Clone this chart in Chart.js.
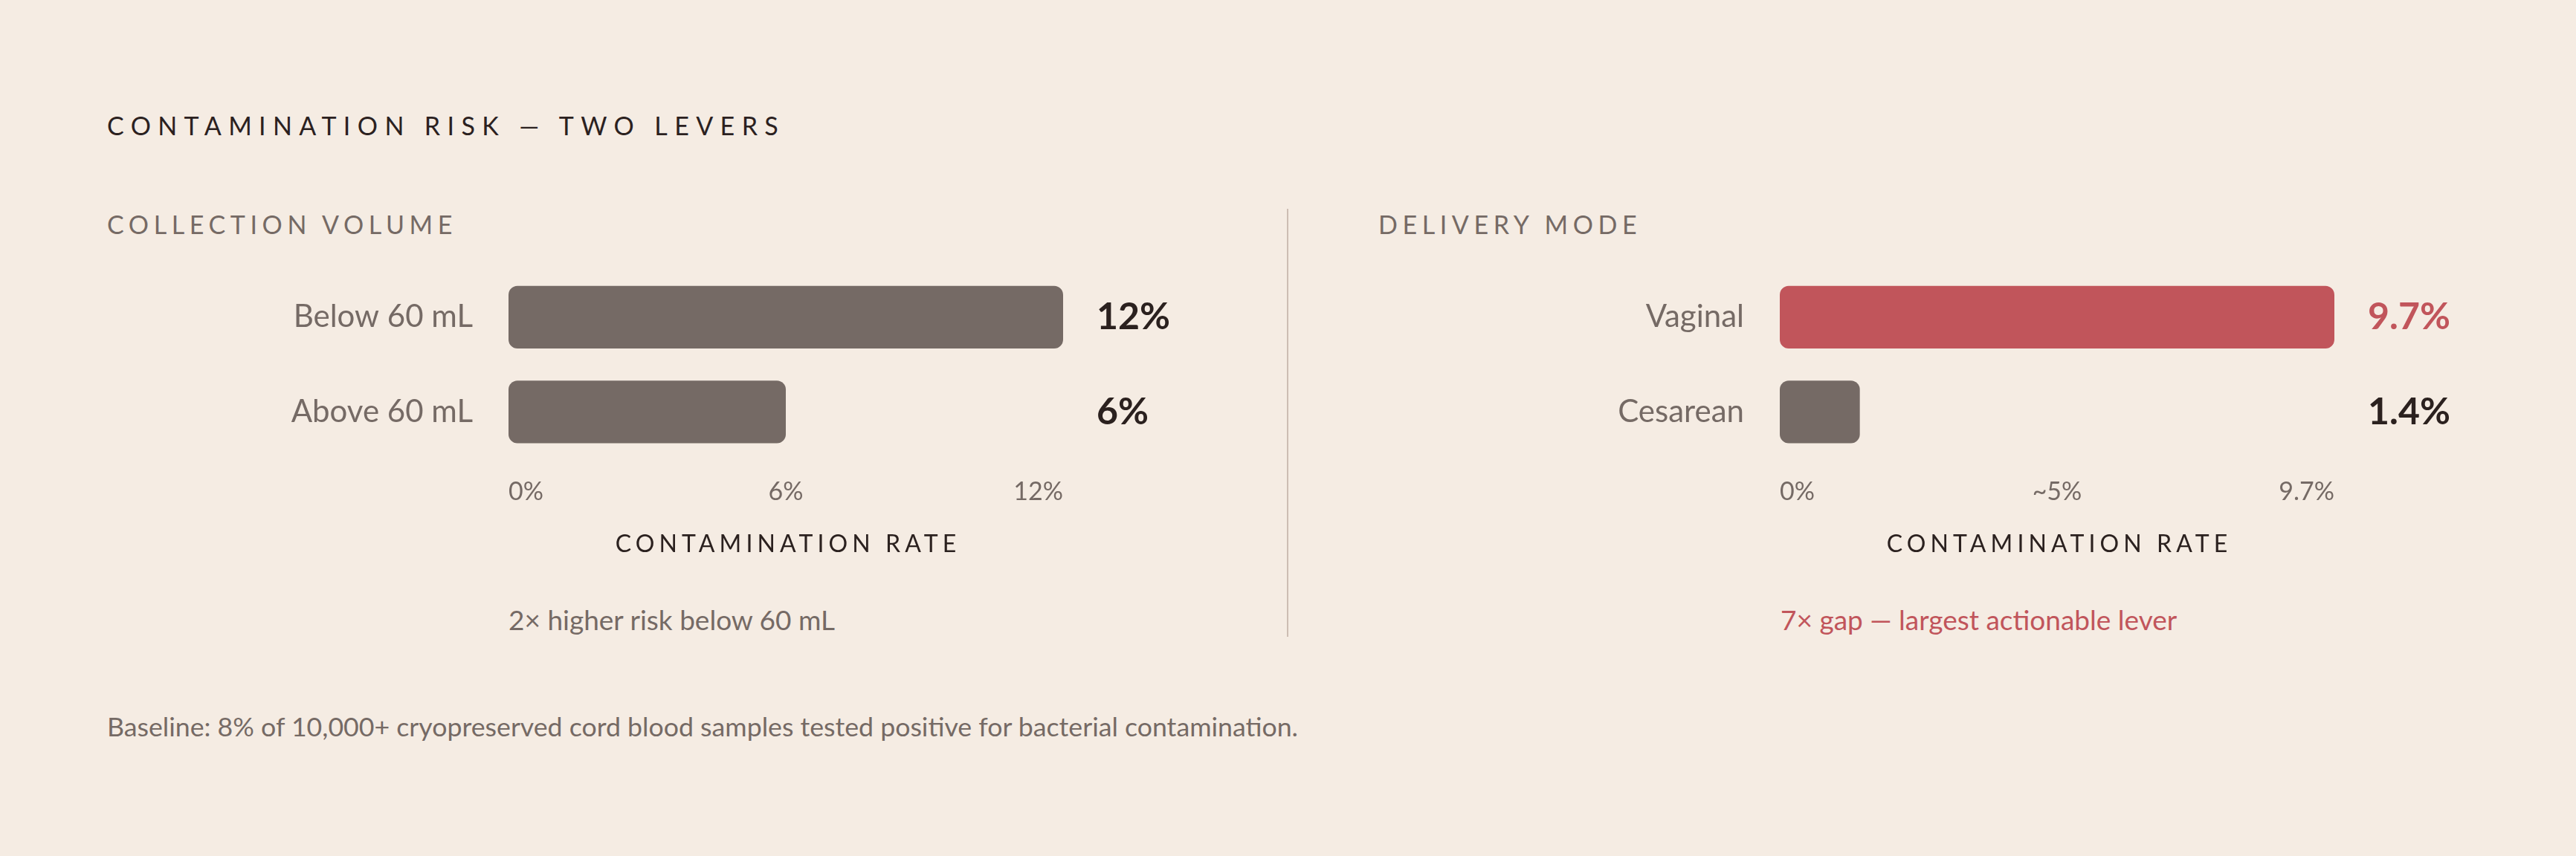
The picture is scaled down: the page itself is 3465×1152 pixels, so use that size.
<!DOCTYPE html>
<html lang="en">
<head>
  <meta charset="UTF-8">
  <title>Contamination Risk — Two Levers</title>
  <script src="https://cdn.jsdelivr.net/npm/chart.js"></script>
  <style>
    html, body { margin: 0; padding: 0; }
    body { width: 3465px; height: 1152px; background: #f5ece3; font-family: Lato, "Noto Sans", sans-serif; position: relative; overflow: hidden; }
    .abs { position: absolute; white-space: nowrap; }
    .title { left: 144px; top: 152px; font-size: 34px; line-height: 34px; letter-spacing: 9.4px; color: #2b211f; }
    .section { top: 285px; font-size: 34px; line-height: 34px; letter-spacing: 6.6px; color: #756a65; }
    .note { top: 815px; font-size: 37px; line-height: 37px; color: #756a65; }
    .note.red { color: #c1555b; }
    .foot { left: 144px; top: 960px; font-size: 35.7px; line-height: 36px; color: #756a65; }
    .divider { left: 1731px; top: 281px; width: 2px; height: 576px; background: #cdbdb3; }
    canvas { position: absolute; top: 340px; }
  </style>
</head>
<body>

<div class="abs title">CONTAMINATION RISK — TWO LEVERS</div>

<div class="abs section" style="left:144px">COLLECTION VOLUME</div>
<div class="abs section" style="left:1854px">DELIVERY MODE</div>

<canvas id="volumeChart" width="1466" height="440" style="left:144px"></canvas>
<canvas id="deliveryChart" width="1466" height="440" style="left:1854px"></canvas>

<div class="abs divider"></div>

<div class="abs note" style="left:684px">2× higher risk below 60 mL</div>
<div class="abs note red" style="left:2395px">7× gap — largest actionable lever</div>

<div class="abs foot">Baseline: 8% of 10,000+ cryopreserved cord blood samples tested positive for bacterial contamination.</div>

<script>
// collection volume panel
const volumeCategories = ['Below 60 mL', 'Above 60 mL'];
const volumeRates = [12, 6];
const volumeTickValues = [0, 6, 12];
const volumeTickLabels = ['0%', '6%', '12%'];

// delivery mode panel
const deliveryCategories = ['Vaginal', 'Cesarean'];
const deliveryRates = [9.7, 1.4];
const deliveryTickValues = [0, 4.85, 9.7];
const deliveryTickLabels = ['0%', '~5%', '9.7%'];

const axisTitle = 'CONTAMINATION RATE';

const GRAY = '#756a65';
const RED = '#c1555b';
const DARK = '#2b211f';

// x axis title with letter spacing (Chart.js titles can't space letters)
const spacedTitle = {
  id: 'spacedTitle',
  afterDraw(chart, args, opts) {
    const { ctx, chartArea, scales } = chart;
    ctx.save();
    ctx.font = '32px Lato';
    ctx.letterSpacing = opts.spacing + 'px';
    ctx.fillStyle = DARK;
    ctx.textAlign = 'center';
    ctx.textBaseline = 'middle';
    const x = (chartArea.left + chartArea.right) / 2 + opts.spacing / 2;
    ctx.fillText(opts.text, x, scales.x.bottom + opts.offset);
    ctx.restore();
  }
};

// fixed side columns, and no extra vertical padding from the big labels
const fixWidth = w => s => {
  s.width = w;
  s.paddingTop = 0;
  s.paddingBottom = 0;
};

function makeChart(id, categories, rates, tickValues, tickLabels, highlight) {
  const valueLabels = rates.map(v => v + '%');
  const barColor = i => (i === highlight ? RED : GRAY);
  const noGrid = { display: false, drawTicks: false };
  return new Chart(document.getElementById(id), {
    type: 'bar',
    data: {
      labels: categories,
      datasets: [{
        data: rates,
        backgroundColor: ctx => barColor(ctx.dataIndex),
        borderRadius: 12,
        borderSkipped: false,
        categoryPercentage: 1,
        barPercentage: 0.66
      }]
    },
    options: {
      indexAxis: 'y',
      responsive: false,
      animation: false,
      layout: { autoPadding: false, padding: { top: 23, bottom: 75, left: 0, right: 0 } },
      plugins: {
        legend: { display: false },
        tooltip: { enabled: false },
        spacedTitle: { text: axisTitle, spacing: 6.1, offset: 28 }
      },
      scales: {
        x: {
          type: 'linear',
          min: 0,
          max: tickValues[tickValues.length - 1],
          afterBuildTicks: s => { s.ticks = tickValues.map(v => ({ value: v })); },
          grid: noGrid,
          border: { display: false },
          ticks: {
            align: 'inner',
            padding: 23,
            color: GRAY,
            font: { family: 'Lato', size: 34 },
            callback: (v, i) => tickLabels[i]
          }
        },
        y: {
          grid: noGrid,
          border: { display: false },
          afterFit: fixWidth(540),
          ticks: {
            padding: 48,
            color: GRAY,
            font: { family: 'Lato', size: 42 }
          }
        },
        values: {
          type: 'category',
          position: 'right',
          labels: valueLabels,
          offset: true,
          grid: noGrid,
          border: { display: false },
          afterFit: fixWidth(180),
          ticks: {
            padding: 45,
            color: ctx => (ctx.index === highlight ? RED : DARK),
            font: { family: 'Lato', size: 50, weight: 'bold' }
          }
        }
      }
    },
    plugins: [spacedTitle]
  });
}

document.fonts.load('34px Lato').then(() => document.fonts.load('bold 50px Lato')).then(() => {
  makeChart('volumeChart', volumeCategories, volumeRates, volumeTickValues, volumeTickLabels, -1);
  makeChart('deliveryChart', deliveryCategories, deliveryRates, deliveryTickValues, deliveryTickLabels, 0);
});
</script>

</body>
</html>
